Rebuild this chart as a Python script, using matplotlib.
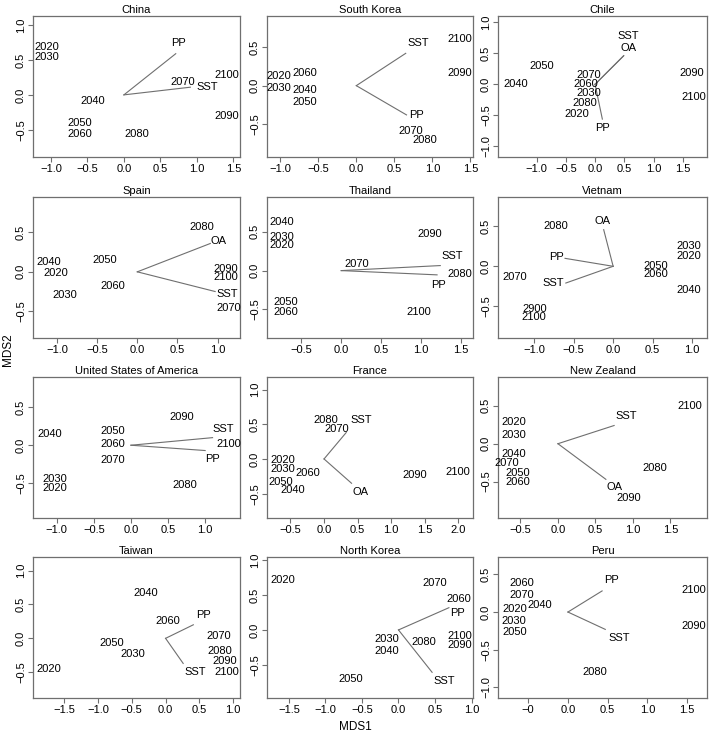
import matplotlib
matplotlib.use("Agg")
import matplotlib.pyplot as plt
from matplotlib.ticker import FixedLocator, FuncFormatter

plt.rcParams['font.family'] = ['Liberation Sans', 'DejaVu Sans']

# ---------------- data ----------------
YEARS = ['2020', '2030', '2040', '2050', '2060', '2070', '2080', '2090', '2100']
VIETNAM_YEARS = ['2020', '2030', '2040', '2050', '2060', '2070', '2080', '2900', '2100']

CHINA_X = [-1.06, -1.06, -0.42, -0.60, -0.60, 0.81, 0.17, 1.41, 1.41]
CHINA_Y = [0.69, 0.54, -0.09, -0.40, -0.56, 0.18, -0.56, -0.30, 0.29]
CHINA_VARS = ['PP', 'SST']
CHINA_VX = [0.71, 0.91]
CHINA_VY = [0.59, 0.11]
CHINA_LX = [0.75, 1.14]
CHINA_LY = [0.75, 0.11]

SKOREA_X = [-1.02, -1.02, -0.68, -0.68, -0.68, 0.71, 0.90, 1.36, 1.36]
SKOREA_Y = [0.125, -0.03, -0.06, -0.21, 0.17, -0.59, -0.70, 0.17, 0.60]
SKOREA_VARS = ['SST', 'PP']
SKOREA_VX = [0.65, 0.66]
SKOREA_VY = [0.42, -0.38]
SKOREA_LX = [0.81, 0.79]
SKOREA_LY = [0.56, -0.38]

CHILE_X = [-0.31, -0.11, -1.36, -0.91, -0.16, -0.11, -0.17, 1.65, 1.69]
CHILE_Y = [-0.47, -0.14, 0.0, 0.29, 0.0, 0.15, -0.30, 0.18, -0.21]
CHILE_VARS = ['SST', 'OA', 'PP']
CHILE_VX = [0.49, 0.49, 0.125]
CHILE_VY = [0.46, 0.46, -0.56]
CHILE_LX = [0.57, 0.57, 0.13]
CHILE_LY = [0.78, 0.58, -0.70]

SPAIN_X = [-1.02, -0.90, -1.10, -0.40, -0.30, 1.14, 0.80, 1.10, 1.10]
SPAIN_Y = [-0.01, -0.30, 0.13, 0.15, -0.18, -0.46, 0.57, 0.04, -0.06]
SPAIN_VARS = ['OA', 'SST']
SPAIN_VX = [0.91, 0.97]
SPAIN_VY = [0.36, -0.25]
SPAIN_LX = [1.01, 1.12]
SPAIN_LY = [0.39, -0.28]

THAI_X = [-0.74, -0.74, -0.74, -0.70, -0.70, 0.19, 1.49, 1.11, 0.97]
THAI_Y = [0.33, 0.44, 0.63, -0.41, -0.53, 0.09, -0.05, 0.47, -0.54]
THAI_VARS = ['SST', 'PP']
THAI_VX = [1.24, 1.20]
THAI_VY = [0.065, -0.055]
THAI_LX = [1.39, 1.22]
THAI_LY = [0.19, -0.18]

VIET_X = [0.96, 0.96, 0.96, 0.54, 0.54, -1.25, -0.73, -1.00, -1.00]
VIET_Y = [0.13, 0.26, -0.30, 0.01, -0.10, -0.13, 0.51, -0.53, -0.64]
VIET_VARS = ['OA', 'PP', 'SST']
VIET_VX = [-0.12, -0.61, -0.60]
VIET_VY = [0.46, 0.10, -0.21]
VIET_LX = [-0.13, -0.72, -0.76]
VIET_LY = [0.57, 0.12, -0.21]

USA_X = [-1.03, -1.03, -1.10, -0.25, -0.25, -0.25, 0.72, 0.69, 1.32]
USA_Y = [-0.57, -0.45, 0.15, 0.19, 0.02, -0.20, -0.53, 0.37, 0.02]
USA_VARS = ['SST', 'PP']
USA_VX = [1.10, 1.00]
USA_VY = [0.10, -0.07]
USA_LX = [1.25, 1.10]
USA_LY = [0.22, -0.18]

FRANCE_X = [-0.61, -0.61, -0.47, -0.64, -0.24, 0.19, 0.02, 1.35, 2.00]
FRANCE_Y = [-0.02, -0.15, -0.45, -0.33, -0.20, 0.43, 0.56, -0.23, -0.19]
FRANCE_VARS = ['SST', 'OA']
FRANCE_VX = [0.33, 0.41]
FRANCE_VY = [0.38, -0.35]
FRANCE_LX = [0.55, 0.55]
FRANCE_LY = [0.56, -0.48]

NZ_X = [-0.59, -0.59, -0.59, -0.54, -0.54, -0.68, 1.29, 0.95, 1.76]
NZ_Y = [0.28, 0.12, -0.13, -0.38, -0.50, -0.26, -0.32, -0.71, 0.50]
NZ_VARS = ['SST', 'OA']
NZ_VX = [0.75, 0.64]
NZ_VY = [0.24, -0.47]
NZ_LX = [0.91, 0.76]
NZ_LY = [0.37, -0.57]

TAIWAN_X = [-1.72, -0.49, -0.30, -0.80, 0.03, 0.79, 0.80, 0.87, 0.90]
TAIWAN_Y = [-0.45, -0.23, 0.67, -0.07, 0.26, 0.04, -0.19, -0.33, -0.49]
TAIWAN_VARS = ['PP', 'SST']
TAIWAN_VX = [0.41, 0.26]
TAIWAN_VY = [0.20, -0.37]
TAIWAN_LX = [0.56, 0.44]
TAIWAN_LY = [0.35, -0.50]

NKOREA_X = [-1.59, -0.16, -0.16, -0.65, 0.82, 0.50, 0.35, 0.84, 0.84]
NKOREA_Y = [0.72, -0.13, -0.31, -0.71, 0.44, 0.67, -0.18, -0.21, -0.09]
NKOREA_VARS = ['PP', 'SST']
NKOREA_VX = [0.69, 0.46]
NKOREA_VY = [0.32, -0.61]
NKOREA_LX = [0.81, 0.62]
NKOREA_LY = [0.25, -0.74]

PERU_X = [-0.67, -0.68, -0.35, -0.67, -0.58, -0.58, 0.34, 1.58, 1.58]
PERU_Y = [0.035, -0.12, 0.09, -0.26, 0.39, 0.22, -0.80, -0.19, 0.29]
PERU_VARS = ['PP', 'SST']
PERU_VX = [0.43, 0.47]
PERU_VY = [0.28, -0.23]
PERU_LX = [0.55, 0.64]
PERU_LY = [0.42, -0.34]

TITLES = ['China', 'South Korea', 'Chile', 'Spain', 'Thailand', 'Vietnam',
          'United States of America', 'France', 'New Zealand',
          'Taiwan', 'North Korea', 'Peru']

XTICKS = [[-1.0, -0.5, 0.0, 0.5, 1.0, 1.5], [-1.0, -0.5, 0.0, 0.5, 1.0, 1.5],
          [-1.0, -0.5, 0.0, 0.5, 1.0, 1.5],
          [-1.0, -0.5, 0.0, 0.5, 1.0], [-0.5, 0.0, 0.5, 1.0, 1.5], [-1.0, -0.5, 0.0, 0.5, 1.0],
          [-1.0, -0.5, 0.0, 0.5, 1.0], [-0.5, 0.0, 0.5, 1.0, 1.5, 2.0], [-0.5, 0.0, 0.5, 1.0, 1.5],
          [-1.5, -1.0, -0.5, 0.0, 0.5, 1.0], [-1.5, -1.0, -0.5, 0.0, 0.5, 1.0],
          [-0.5, 0.0, 0.5, 1.0, 1.5]]
YTICKS = [[-0.5, 0.0, 0.5, 1.0], [-0.5, 0.0, 0.5], [-1.0, -0.5, 0.0, 0.5, 1.0],
          [-0.5, 0.0, 0.5], [-0.5, 0.0, 0.5], [-0.5, 0.0, 0.5],
          [-0.5, 0.0, 0.5], [-0.5, 0.0, 0.5, 1.0], [-0.5, 0.0, 0.5],
          [-0.5, 0.0, 0.5, 1.0], [-0.5, 0.0, 0.5, 1.0], [-1.0, -0.5, 0.0, 0.5]]

PANELS = [
    (YEARS, CHINA_X, CHINA_Y, CHINA_VARS, CHINA_VX, CHINA_VY, CHINA_LX, CHINA_LY),
    (YEARS, SKOREA_X, SKOREA_Y, SKOREA_VARS, SKOREA_VX, SKOREA_VY, SKOREA_LX, SKOREA_LY),
    (YEARS, CHILE_X, CHILE_Y, CHILE_VARS, CHILE_VX, CHILE_VY, CHILE_LX, CHILE_LY),
    (YEARS, SPAIN_X, SPAIN_Y, SPAIN_VARS, SPAIN_VX, SPAIN_VY, SPAIN_LX, SPAIN_LY),
    (YEARS, THAI_X, THAI_Y, THAI_VARS, THAI_VX, THAI_VY, THAI_LX, THAI_LY),
    (VIETNAM_YEARS, VIET_X, VIET_Y, VIET_VARS, VIET_VX, VIET_VY, VIET_LX, VIET_LY),
    (YEARS, USA_X, USA_Y, USA_VARS, USA_VX, USA_VY, USA_LX, USA_LY),
    (YEARS, FRANCE_X, FRANCE_Y, FRANCE_VARS, FRANCE_VX, FRANCE_VY, FRANCE_LX, FRANCE_LY),
    (YEARS, NZ_X, NZ_Y, NZ_VARS, NZ_VX, NZ_VY, NZ_LX, NZ_LY),
    (YEARS, TAIWAN_X, TAIWAN_Y, TAIWAN_VARS, TAIWAN_VX, TAIWAN_VY, TAIWAN_LX, TAIWAN_LY),
    (YEARS, NKOREA_X, NKOREA_Y, NKOREA_VARS, NKOREA_VX, NKOREA_VY, NKOREA_LX, NKOREA_LY),
    (YEARS, PERU_X, PERU_Y, PERU_VARS, PERU_VX, PERU_VY, PERU_LX, PERU_LY),
]

# ---------------- layout ----------------
XLIMS = [(-1.245, 1.59), (-1.175, 1.535), (-1.66, 1.915),
         (-1.30, 1.28), (-0.93, 1.65), (-1.46, 1.19),
         (-1.32, 1.47), (-0.85, 2.22), (-0.80, 1.99),
         (-1.96, 1.10), (-1.80, 1.02), (-0.88, 1.75)]
YLIMS = [(-0.89, 1.13), (-0.927, 0.905), (-1.17, 1.10),
         (-0.84, 0.95), (-0.87, 0.95), (-0.90, 0.87),
         (-0.96, 0.90), (-0.85, 1.18), (-0.98, 0.88),
         (-0.88, 1.20), (-0.98, 1.05), (-1.14, 0.73)]

W, H = 709, 736
COLS = [(33, 240), (267, 473), (498, 707)]
ROWS = [(16, 157), (197, 338), (377, 518), (557, 698)]

FS = 8.0
GRAY = '#6f6f6f'


def fmt(v, p):
    return f'{v:.1f}'.replace('-', '\u2212')


def peru_fmt(v, p):
    return '\u22120' if abs(v + 0.5) < 1e-9 else fmt(v, p)


fig = plt.figure(figsize=(W / 100, H / 100), dpi=100)

for i, panel in enumerate(PANELS):
    labels, xs, ys, vnames, vx, vy, lx, ly = panel
    r, c = divmod(i, 3)
    x0, x1 = COLS[c]
    y0, y1 = ROWS[r]
    ax = fig.add_axes([x0 / W, 1 - y1 / H, (x1 - x0) / W, (y1 - y0) / H])
    ax.set_xlim(*XLIMS[i])
    ax.set_ylim(*YLIMS[i])
    ax.xaxis.set_major_locator(FixedLocator(XTICKS[i]))
    ax.yaxis.set_major_locator(FixedLocator(YTICKS[i]))
    ax.xaxis.set_major_formatter(FuncFormatter(peru_fmt if TITLES[i] == 'Peru' else fmt))
    ax.yaxis.set_major_formatter(FuncFormatter(fmt))
    for s in ax.spines.values():
        s.set_color(GRAY)
        s.set_linewidth(0.9)
    ax.tick_params(axis='both', direction='out', length=3.5, width=0.8,
                   color=GRAY, labelsize=FS, pad=1.5, labelcolor='black')
    ax.tick_params(axis='y', labelrotation=90)
    for t in ax.get_yticklabels():
        t.set_verticalalignment('center')
    ax.set_title(TITLES[i], fontsize=FS, pad=2.5)

    for name, ex, ey in zip(vnames, vx, vy):
        ax.plot([0, ex], [0, ey], color=GRAY, lw=0.8, zorder=1)
    for name, tx, ty in zip(vnames, lx, ly):
        ax.text(tx, ty, name, ha='center', va='center', fontsize=FS, zorder=3)
    for lab, px, py in zip(labels, xs, ys):
        ax.text(px, py, lab, ha='center', va='center', fontsize=FS, zorder=3)

fig.text(355 / W, 1 - 727 / H, 'MDS1', ha='center', va='center', fontsize=8.5)
fig.text(8 / W, 1 - 350 / H, 'MDS2', ha='center', va='center', fontsize=8.5, rotation=90)

fig.savefig('out.png', dpi=100)
